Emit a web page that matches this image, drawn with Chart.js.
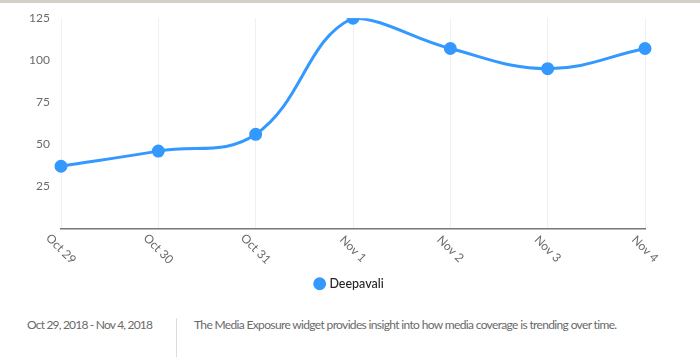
<!DOCTYPE html>
<html>
<head>
<meta charset="utf-8">
<script src="https://cdn.jsdelivr.net/npm/chart.js@4/dist/chart.umd.min.js"></script>
<style>
  html, body { margin: 0; padding: 0; background: #fff; }
  body { width: 700px; height: 357px; position: relative; overflow: hidden; font-family: Lato, "Open Sans", sans-serif; }
  #topbar { position: absolute; left: 0; top: 0; width: 700px; height: 3px; background: #d3cfc8; }
  #wrap { position: absolute; left: 0; top: 0; width: 700px; height: 300px; }
  #footer-date { position: absolute; left: 27px; top: 317px; font-size: 12px; color: #6a6a6a; letter-spacing: -0.8px; word-spacing: 0px; white-space: nowrap; }
  #sep { position: absolute; left: 176px; top: 318px; width: 1px; height: 40px; background: #dcdcdc; }
  #footer-desc { position: absolute; left: 194px; top: 317px; font-size: 12px; color: #6a6a6a; letter-spacing: -0.65px; white-space: nowrap; }
</style>
</head>
<body>
<div id="wrap"><canvas id="c"></canvas></div>
<div id="topbar"></div>
<div id="footer-date">Oct 29, 2018 - Nov 4, 2018</div>
<div id="sep"></div>
<div id="footer-desc">The Media Exposure widget provides insight into how media coverage is trending over time.</div>
<script>
const categories = ["Oct 29", "Oct 30", "Oct 31", "Nov 1", "Nov 2", "Nov 3", "Nov 4"];
const seriesName = "Deepavali";
const values = [37, 46, 56, 125, 107, 95, 107];
const yTicks = [25, 50, 75, 100, 125];

const rotatedLabels = {
  id: 'rotatedLabels',
  afterDraw(chart) {
    const xs = chart.scales.x;
    const ctx = chart.ctx;
    ctx.save();
    ctx.font = '12px Lato';
    ctx.fillStyle = '#6a6a6a';
    ctx.textAlign = 'center';
    ctx.textBaseline = 'middle';
    categories.forEach((lab, i) => {
      const x = xs.getPixelForValue(i);
      ctx.save();
      ctx.translate(x, 249);
      ctx.rotate(Math.PI / 4);
      ctx.fillText(lab, 0, 0);
      ctx.restore();
    });
    ctx.restore();
  }
};

new Chart(document.getElementById('c'), {
  type: 'line',
  data: {
    labels: categories,
    datasets: [{
      label: seriesName,
      data: values,
      borderColor: '#3399ff',
      backgroundColor: '#3399ff',
      borderWidth: 3,
      pointRadius: 5,
      pointHoverRadius: 5,
      pointBackgroundColor: '#3399ff',
      pointBorderColor: '#3399ff',
      tension: 0.4,
      fill: false
    }]
  },
  options: {
    responsive: true,
    maintainAspectRatio: false,
    animation: false,
    layout: { padding: { left: 0, right: 0, top: 18, bottom: 0 } },
    plugins: {
      tooltip: { enabled: false },
      legend: {
        position: 'bottom',
        labels: {
          usePointStyle: true,
          pointStyle: 'circle',
          boxWidth: 7,
          boxHeight: 7,
          color: '#262626',
          font: { family: 'Lato', size: 12.5, weight: '500' },
          padding: 11
        }
      }
    },
    scales: {
      x: {
        offset: false,
        grid: { color: '#f0f0f0', drawTicks: false },
        border: { color: '#777', width: 1.5 },
        ticks: { display: false },
        afterFit(scale) { scale.height = 38; }
      },
      y: {
        min: 0,
        max: 125,
        afterBuildTicks(scale) { scale.ticks = yTicks.map(v => ({ value: v })); },
        grid: { display: false, drawTicks: false },
        border: { display: false },
        ticks: { color: '#6a6a6a', font: { family: 'Lato', size: 12 }, padding: 11 },
        afterFit(scale) { scale.width = 61; }
      },
      yr: {
        position: 'right',
        display: true,
        min: 0,
        max: 125,
        grid: { display: false, drawTicks: false },
        border: { display: false },
        ticks: { display: false },
        afterFit(scale) { scale.width = 55; }
      }
    }
  },
  plugins: [rotatedLabels]
});
</script>
</body>
</html>
